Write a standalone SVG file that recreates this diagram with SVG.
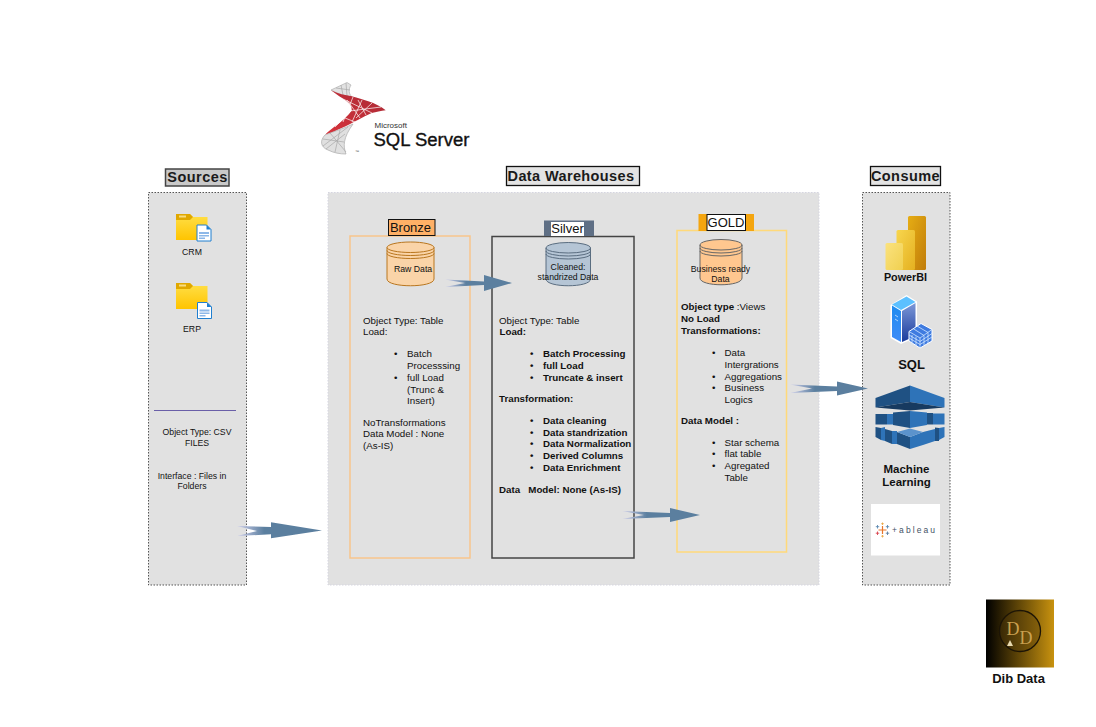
<svg xmlns="http://www.w3.org/2000/svg" width="1096" height="727" viewBox="0 0 1096 727">
<style>
text{font-family:"Liberation Sans",Arial,sans-serif;font-size:9.750px;fill:#111}
.b{font-weight:700}
.m{text-anchor:middle}
.s{font-size:8.700px}
.h{font-weight:700;font-size:14.500px;letter-spacing:.45px;text-anchor:middle;fill:#1a1a1a}
.t{font-size:13px;text-anchor:middle;fill:#111}
.panel{fill:#e1e1e1;stroke:#555;stroke-width:1;stroke-dasharray:1.500 1.500}
.hbox{fill:#e3e3e3;stroke:#111;stroke-width:1.300}
.arr{fill:url(#ag)}
.cap{fill:none;stroke-width:1}
.lat{fill:none;stroke:#fff;stroke-width:.7}
.latg{fill:none;stroke:#a8a8a8;stroke-width:.7}
.dk{fill:#1f5183}
.lt{fill:#2e73b8}
</style>
<defs>
<linearGradient id="ag" x1="0" x2="1" y1="0" y2="0"><stop offset="0" stop-color="#cfcfec"/><stop offset=".32" stop-color="#5b7f9f"/><stop offset="1" stop-color="#5b7f9f"/></linearGradient>
<linearGradient id="fold" x1="0" x2="0" y1="0" y2="1"><stop offset="0" stop-color="#ffe04a"/><stop offset="1" stop-color="#ffc400"/></linearGradient>
<linearGradient id="pb1" x1="0" x2="1" y1="0" y2="1"><stop offset="0" stop-color="#fbe27e"/><stop offset="1" stop-color="#f0d050"/></linearGradient>
<linearGradient id="pb2" x1="0" x2="1" y1="0" y2="1"><stop offset="0" stop-color="#f8d64e"/><stop offset="1" stop-color="#e4b020"/></linearGradient>
<linearGradient id="pb3" x1="0" x2="1" y1="0" y2="1"><stop offset="0" stop-color="#e6ad14"/><stop offset="1" stop-color="#c07c0a"/></linearGradient>
<linearGradient id="srv" x1="0" x2="0" y1="0" y2="1"><stop offset="0" stop-color="#7c98d8"/><stop offset="1" stop-color="#1a3a9c"/></linearGradient>
<linearGradient id="srvl" x1="0" x2="0" y1="0" y2="1"><stop offset="0" stop-color="#1f8cf0"/><stop offset="1" stop-color="#3f8cf8"/></linearGradient>
<linearGradient id="dib" x1="0" x2="1" y1="0" y2="0"><stop offset="0" stop-color="#000"/><stop offset="1" stop-color="#c8920f"/></linearGradient>
<linearGradient id="red" x1="0" x2="1" y1="1" y2="0"><stop offset="0" stop-color="#d8333c"/><stop offset="1" stop-color="#a92a35"/></linearGradient>
<g id="doc"><path d="M0,0H9.500L14,4.500V16H0Z" fill="#fff" stroke="#1f7fd0" stroke-width="1"/><path d="M9.500,0L14,4.500H9.500Z" fill="#1f7fd0"/><path d="M2,7H12V9H2ZM2,10H12V11.500H2ZM2,12.500H8V14H2Z" fill="#8db8e8"/></g>
<g id="fld"><path d="M0,0H14L17,3H31.500V26H0Z" fill="url(#fold)"/><path d="M0,0H14L17,3L14,6H0Z" fill="#e0a800"/><rect x="3" y="1.500" width="7" height="2" fill="#f8dc80"/></g>
</defs>

<g id="sqlserver-logo">
<path d="M331,90L347,82.500L351,85C348,90 349,94 352,97C345,96 338,94 331,90Z" fill="#e2e2e2" stroke="#b0b0b0" stroke-width=".7"/>
<path class="latg" d="M336,88L350,90M341,85L343,95M346,83L347,96"/>
<path d="M331,90.300C338,94 345,95 351.700,96.300C358,98 363,99.500 368.300,101.300C375,103.500 381,106.500 385.700,110.300C381,111 376,112 371.700,113C367,115 362.500,117.500 358.300,119.700C352,123 347,125.500 341.700,128C336.500,130.500 331,133 325,134.700C328.500,131.500 331.500,129 335,126.300C339,123.500 342,121 345,118C348,115 350.500,113 351.700,109.700C352,106.500 350,104 346.700,101.300C341,97.500 336,94 331,90.300Z" fill="url(#red)"/>
<path class="lat" d="M340,97.500L372,113M347,100L360,118M353,97L343,122M362,100L352,122M372,103L356,118M381,107L350,111M352,110L335,127M345,118L355,122M358,100L366,115"/>
<path d="M325,135C320,140 320,147 328,150C334,153 340,154 346,154C343,146 343,138 353,124C345,128 335,131 325,135Z" fill="#e0e0e0" stroke="#aaa" stroke-width=".7"/>
<path class="latg" d="M330,133L346,152M340,130L335,152M348,127L323,146M323,139L344,142M326,149L345,134"/>
<text x="355" y="153" style="font-size:4px;fill:#444">™</text>
<text x="374.500" y="127.500" style="font-size:8px;fill:#333">Microsoft</text>
<text x="373.500" y="146" textLength="96" lengthAdjust="spacingAndGlyphs" style="font-size:18px;fill:#111;stroke:#111;stroke-width:.35">SQL Server</text>
</g>

<g id="sources">
<rect class="panel" x="148.500" y="192.500" width="98" height="392.500"/>
<rect class="hbox" x="165.500" y="169" width="63.500" height="17" style="fill:#c9c9c9;stroke:#444;stroke-width:1.500"/>
<text class="h" x="197.500" y="182">Sources</text>
<g id="crm"><use href="#fld" x="176" y="214"/><use href="#doc" x="197" y="225"/><text class="s m" x="192" y="255">CRM</text></g>
<g id="erp"><use href="#fld" x="176" y="283"/><use href="#doc" x="197.500" y="302.500"/><text class="s m" x="192" y="332">ERP</text></g>
<path d="M154,410.500H236" stroke="#6a5fa8" stroke-width="1"/>
<text class="s m" x="197" y="435">Object Type: CSV</text>
<text class="s m" x="197" y="446">FILES</text>
<text class="s m" x="192" y="479">Interface : Files in</text>
<text class="s m" x="192" y="489">Folders</text>
</g>

<g id="warehouse">
<rect x="328" y="192.500" width="491" height="392.500" fill="#e1e1e1" stroke="#d5d5e0" stroke-dasharray="1.500 1.500"/>
<rect class="hbox" x="506.500" y="166.500" width="133" height="19"/>
<text class="h" x="571" y="181" style="letter-spacing:.38px">Data Warehouses</text>
</g>

<g id="bronze">
<rect x="350" y="236" width="120" height="322" fill="none" stroke="#f8c58c" stroke-width="1.500"/>
<rect x="388.500" y="219.500" width="46.500" height="16" fill="#ffb066" stroke="#111" stroke-width="1"/>
<text class="t" x="410.500" y="232">Bronze</text>
<path d="M387,247.500A23.500,5.500 0 0 1 434,247.500V279C434,288 387,288 387,279Z" fill="#fad4a8" stroke="#b9761e"/>
<path class="cap" stroke="#b9761e" d="M387,247.500A23.500,5 0 0 0 434,247.500M387,250.500A23.500,5 0 0 0 434,250.500M387,253.500A23.500,5 0 0 0 434,253.500"/>
<text class="s" x="394" y="272">Raw Data</text>
<text x="363" y="324">Object Type: Table</text>
<text x="363" y="335">Load:</text>
<text x="394" y="357">•</text><text x="407" y="357">Batch</text>
<text x="407" y="369">Processsing</text>
<text x="394" y="381">•</text><text x="407" y="381">full Load</text>
<text x="407" y="392.500">(Trunc &amp;</text>
<text x="407" y="404">Insert)</text>
<text x="363" y="426">NoTransformations</text>
<text x="363" y="437">Data Model : None</text>
<text x="363" y="449">(As-IS)</text>
</g>

<g id="silver">
<rect x="492" y="236.500" width="142" height="321.500" fill="none" stroke="#444" stroke-width="1.500"/>
<rect x="544" y="220.500" width="50" height="15.500" fill="#5f6f85"/>
<rect x="551" y="222" width="33" height="14" fill="#fff"/>
<text class="t" x="567.500" y="233">Silver</text>
<path d="M546,248A22.250,5.500 0 0 1 590.500,248V279C590.500,288 546,288 546,279Z" fill="#b5c5d5" stroke="#5a6d80"/>
<path class="cap" stroke="#5a6d80" d="M546,248A22.250,5 0 0 0 590.500,248M546,251A22.250,5 0 0 0 590.500,251M546,254A22.250,5 0 0 0 590.500,254"/>
<text class="s m" x="568" y="270">Cleaned:</text>
<text class="s m" x="568" y="280">standrized Data</text>
<text x="499" y="324">Object Type: Table</text>
<text class="b" x="499.500" y="335">Load:</text>
<g class="b">
<text x="530" y="356.500">•</text><text x="543" y="356.500">Batch Processing</text>
<text x="530" y="369">•</text><text x="543" y="369">full Load</text>
<text x="530" y="381">•</text><text x="543" y="381">Truncate &amp; insert</text>
<text x="499" y="402">Transformation:</text>
<text x="530" y="424">•</text><text x="543" y="424">Data cleaning</text>
<text x="530" y="436">•</text><text x="543" y="436">Data standrization</text>
<text x="530" y="447">•</text><text x="543" y="447">Data Normalization</text>
<text x="530" y="459">•</text><text x="543" y="459">Derived Columns</text>
<text x="530" y="471">•</text><text x="543" y="471">Data Enrichment</text>
<text x="499" y="493" xml:space="preserve">Data   Model: None (As-IS)</text>
</g>
</g>

<g id="gold">
<rect x="677" y="230.500" width="109.500" height="321.500" fill="none" stroke="#ffd97a" stroke-width="1.500"/>
<rect x="698.500" y="214" width="55.500" height="17" fill="#f4a50f"/>
<rect x="707" y="214.500" width="38.500" height="16" fill="#fff" stroke="#111" stroke-width="1"/>
<text class="t" x="726" y="227">GOLD</text>
<path d="M700,245A21,5.500 0 0 1 742,245V278C742,287 700,287 700,278Z" fill="#ffc78f" stroke="#666"/>
<path class="cap" stroke="#666" d="M700,245A21,5 0 0 0 742,245M700,248A21,5 0 0 0 742,248M700,251A21,5 0 0 0 742,251"/>
<text class="s m" x="720.500" y="272">Business ready</text>
<text class="s m" x="720.500" y="282">Data</text>
<text x="681" y="310"><tspan class="b">Object type </tspan>:Views</text>
<text class="b" x="681" y="322">No Load</text>
<text class="b" x="681" y="334">Transformations:</text>
<text x="712" y="356">•</text><text x="724.500" y="356">Data</text>
<text x="724.500" y="367.500">Intergrations</text>
<text x="712" y="379.500">•</text><text x="724.500" y="379.500">Aggregations</text>
<text x="712" y="391">•</text><text x="724.500" y="391">Business</text>
<text x="724.500" y="403">Logics</text>
<text class="b" x="681" y="424">Data Model :</text>
<text x="712" y="446">•</text><text x="724.500" y="446">Star schema</text>
<text x="712" y="457">•</text><text x="724.500" y="457">flat table</text>
<text x="712" y="469">•</text><text x="724.500" y="469">Agregated</text>
<text x="724.500" y="481">Table</text>
</g>

<g id="consume">
<rect class="panel" x="862.500" y="192.500" width="87.500" height="392.500"/>
<rect class="hbox" x="870.500" y="166.500" width="70" height="19"/>
<text class="h" x="905.500" y="181">Consume</text>
<g id="powerbi">
<rect x="908" y="216" width="18" height="54" rx="1.500" fill="url(#pb3)"/>
<rect x="896.500" y="230" width="18.500" height="40" rx="1.500" fill="url(#pb2)"/>
<rect x="885.500" y="243" width="17.500" height="27" rx="1.500" fill="url(#pb1)"/>
<text class="b m" x="905.500" y="281" style="font-size:10.800px">PowerBI</text>
</g>
<g id="sql">
<path d="M890.500,305L906.500,295L917,301.500V337L901,344L890.500,338Z" fill="#fff"/>
<path d="M892,305.500L901,311V342L892,337Z" fill="url(#srvl)"/>
<path d="M892,304.500L906.500,296.500L915.500,302L901,310Z" fill="#5cc0ff"/>
<path d="M902,311L915.500,303V336L902,342Z" fill="url(#srv)"/>
<path d="M895,315L898,317M895,319L898,321" stroke="#cfe4ff" stroke-width=".8"/>
<path d="M909,331.500L921,323.500L932,329.500V341L920,348L909,341Z" fill="#3f7be0" stroke="#fff"/>
<path d="M909,331.500L920,338L932,329.500M920,338V348M913,328.500L924,335.500M917,326L928,332.500M912,335V344.500M916,336.500V346M924,335.500V345M928,332.500V343M909,335L920,341.500L932,333.500M909,338L920,344.500L932,337" fill="none" stroke="#cfe6ff" stroke-width=".8"/>
<text class="b m" x="911.500" y="368.500" style="font-size:13px">SQL</text>
</g>
<g id="ml">
<path class="dk" d="M875.500,398L910,385.500V402L875.500,407.500Z"/>
<path class="lt" d="M910,385.500L944.500,398V407.500L910,402Z"/>
<path d="M875.500,407.500L910,402L944.500,407.500L910,410.500Z" fill="#173a60"/>
<path class="dk" d="M875.500,414H887V424.500H875.500ZM927,413H933V424.500H927ZM893,412.500L910,411V428L893,425Z"/>
<path class="lt" d="M887,414H893V424.500H887ZM933,413.500H944.500V424.500H933ZM910,411L927,412.500V425L910,428Z"/>
<path class="dk" d="M875.500,427L881,428V440L875.500,437ZM885,429L892,431V444L885,441ZM935,427.500L939,428V441L935,441ZM897,432L910,437V449L897,444Z"/>
<path class="lt" d="M881,428L885,427V441L881,440ZM892,431H897V444H892ZM923,432L935,429V441L923,445ZM939,428L944.500,427V437L939,440ZM910,437L923,432V445L910,449Z"/>
<path d="M897,432L910,428.500L923,432L910,437Z" fill="#5b93cc"/>
<text class="b m" x="906.500" y="473" style="font-size:11.500px">Machine</text>
<text class="b m" x="906.500" y="486" style="font-size:11.500px">Learning</text>
</g>
<g id="tableau">
<rect x="871" y="504" width="69" height="51.500" fill="#fff"/>
<path d="M882.500,526V534M878.500,530H886.500" stroke="#e8762b" stroke-width="1.200"/>
<path d="M877.500,525V528.500M875.800,526.700H879.200M887.500,525V528.500M885.800,526.700H889.200" stroke="#5b88b0" stroke-width=".9"/>
<path d="M877.500,531.500V535M875.800,533.200H879.200" stroke="#d9434e" stroke-width=".9"/>
<path d="M887.500,531.500V535M885.800,533.200H889.200" stroke="#5b7fa0" stroke-width=".9"/>
<path d="M882.500,522.500V525M881.200,523.700H883.800M882.500,535V537.500M881.200,536.200H883.800" stroke="#e8a23a" stroke-width=".8"/>
<text x="892" y="533" style="font-size:8.500px;fill:#3f5266;letter-spacing:2.100px">+ableau</text>
</g>
</g>

<g id="dib-data">
<rect x="986" y="599.500" width="68" height="68" fill="url(#dib)"/>
<circle cx="1020" cy="631" r="20.500" fill="#5a3f0c" fill-opacity=".35" stroke="#1c1406" stroke-width="1.300"/>
<path d="M1007,646L1010,640L1013,646Z" fill="#e8d9b0"/>
<text x="1006.500" y="635" style="font-family:'Liberation Serif',serif;font-size:18px;fill:#c9a050">D</text>
<text x="1019.500" y="644" style="font-family:'Liberation Serif',serif;font-size:18px;fill:#c9a050">D</text>
<text class="b m" x="1018.500" y="683" style="font-size:13px">Dib Data</text>
</g>

<g id="connectors">
<path class="arr" d="M237,526L271,527V522.300L322,530.500L271,538.300V534.300L237,536L257,531Z"/>
<path class="arr" d="M445,279.500L484,281.500V275L512,283L484,291V285L445,287L465,283Z"/>
<path class="arr" d="M622,511L670,513V508L700,515L670,522V517L622,519L644,515Z"/>
<path class="arr" d="M790,384.500L837,386.500V381.500L868,388.500L837,395.500V391L790,393L812,388.500Z"/>
</g>
</svg>
